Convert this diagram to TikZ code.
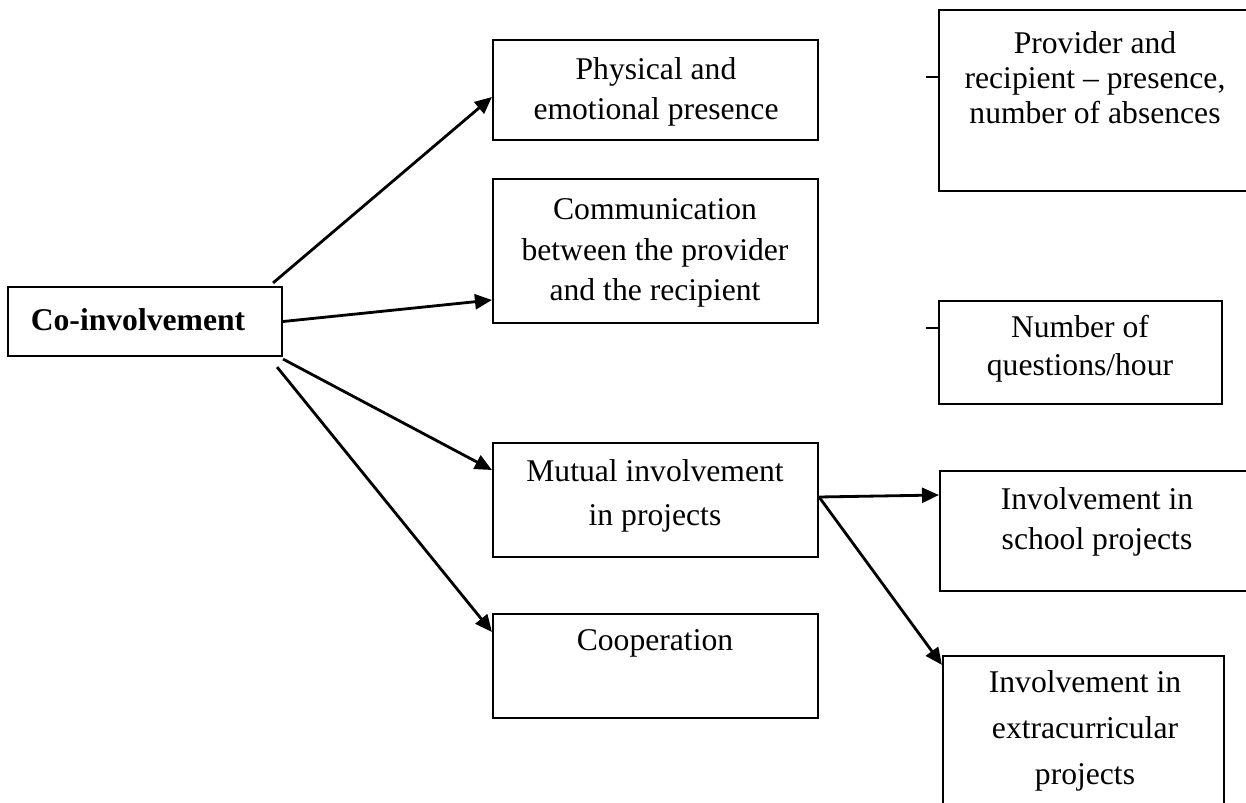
\documentclass[tikz,border=0pt]{standalone}
\usepackage{fontspec}
\setmainfont{Liberation Serif}
\usetikzlibrary{calc,arrows.meta}

\begin{document}
\begin{tikzpicture}[x=.02cm, y=-.02cm,
    box/.style={draw, line width=1.25pt, inner sep=0pt},
    txt/.style={align=center, inner sep=0pt, font=\fontsize{18}{23}\selectfont},
    link/.style={line width=1.6pt, -{Triangle[length=.34cm,width=.3cm]}}]
\path[use as bounding box, clip] (0,0) rectangle (1246,803);

% boxes
\node[box, minimum width=5.48cm, minimum height=1.38cm] (co) at (145,321.5) {};
\node[box, minimum width=6.5cm, minimum height=2cm] (phys) at (655.5,90) {};
\node[box, minimum width=6.5cm, minimum height=2.88cm] (comm) at (655.5,251) {};
\node[box, minimum width=6.5cm, minimum height=2.28cm] (mut) at (655.5,500) {};
\node[box, minimum width=6.5cm, minimum height=2.08cm] (coop) at (655.5,666) {};
\node[box, minimum width=6.22cm, minimum height=3.62cm] (prov) at (1094.5,100.5) {};
\node[box, minimum width=5.66cm, minimum height=2.06cm] (num) at (1080.5,352.5) {};
\node[box, minimum width=6.2cm, minimum height=2.4cm] (school) at (1095,531) {};
\node[box, minimum width=5.62cm, minimum height=3.28cm] (extra) at (1083.5,738) {};

% texts
\node[txt, font=\fontsize{18}{23}\selectfont\bfseries] (coT) at (138,320) {Co-involvement};
\node[txt] (physT) at (656,92) {Physical and\\emotional presence};
\node[txt] (commT) at (655,253) {Communication\\between the provider\\and the recipient};
\node[txt, font=\fontsize{18}{25}\selectfont] (mutT) at (655,496) {Mutual involvement\\in projects};
\node[txt] (coopT) at (655,643) {Cooperation};
\node[txt, font=\fontsize{18}{20}\selectfont] (provT) at (1095,78) {Provider and\\recipient -- presence,\\number of absences};
\node[txt, font=\fontsize{18}{21.6}\selectfont] (numT) at (1080,349) {Number of\\questions/hour};
\node[txt] (schoolT) at (1097,522) {Involvement in\\school projects};
\node[txt, font=\fontsize{18}{26}\selectfont] (extraT) at (1085,731) {Involvement in\\extracurricular\\projects};

% connectors
\draw[link] ($(co.north east)+(-10,-3)$) -- ($(phys.west)+(0,7)$);
\draw[link] (co.east) -- ($(comm.west)+(0,49)$);
\draw[link] ($(co.south east)+(0,2)$) -- ($(mut.west)+(0,-30)$);
\draw[link] ($(co.south east)+(-6,10)$) -- ($(coop.west)+(0,-34)$);
\draw[link] ($(mut.east)+(0,-3)$) -- ($(school.west)+(0,-36)$);
\draw[link] ($(mut.east)+(0,-3)$) -- ($(extra.north west)+(0,10)$);
\foreach \b/\dy in {prov/-23.5, num/-24.5}
    \draw[line width=1.6pt] ($(\b.west)+(0,\dy)$) -- ++(-12,0);
\end{tikzpicture}
\end{document}
